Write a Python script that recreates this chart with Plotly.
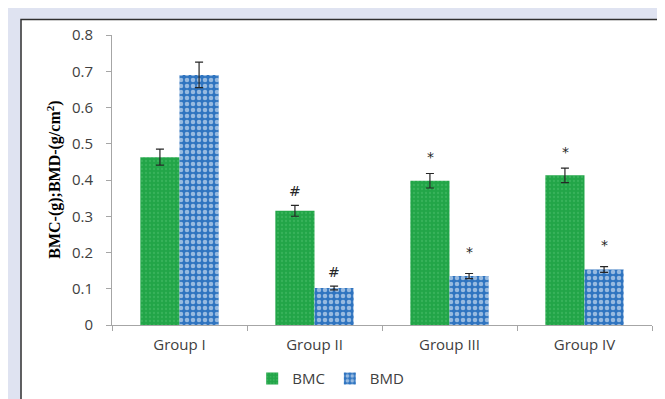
import plotly.graph_objects as go

groups = ["Group I", "Group II", "Group III", "Group IV"]
bmc = [0.463, 0.315, 0.398, 0.413]
bmc_err = [0.022, 0.015, 0.020, 0.020]
bmd = [0.690, 0.102, 0.135, 0.153]
bmd_err = [0.035, 0.005, 0.007, 0.008]
bmc_marks = ["", "#", "*", "*"]
bmd_marks = ["", "#", "*", "*"]
y_ticks = [0, 0.1, 0.2, 0.3, 0.4, 0.5, 0.6, 0.7, 0.8]

tick_font = dict(family="Open Sans, Liberation Sans, sans-serif", size=15, color="#404040")

fig = go.Figure()
fig.add_trace(go.Bar(
    name="BMC", x=groups, y=bmc,
    error_y=dict(type="data", array=bmc_err, color="#262626", thickness=1.2, width=4),
    marker=dict(color="#22a548", line=dict(width=0),
                pattern=dict(shape=".", fgcolor="#4dbf6c", bgcolor="#22a548", size=4, solidity=0.25)),
))
fig.add_trace(go.Bar(
    name="BMD", x=groups, y=bmd,
    error_y=dict(type="data", array=bmd_err, color="#262626", thickness=1.2, width=4),
    marker=dict(color="#2f74c0", line=dict(width=0),
                pattern=dict(shape=".", fgcolor="#ffffff", bgcolor="#2f74c0", size=6, solidity=0.45)),
))

for i, g in enumerate(groups):
    for marks, vals, errs, shift, extra in ((bmc_marks, bmc, bmc_err, -19.5, 6), (bmd_marks, bmd, bmd_err, 19.5, 12)):
        if marks[i]:
            fig.add_annotation(x=g, y=vals[i] + errs[i], xref="x", yref="y",
                               text=marks[i], showarrow=False, xshift=shift,
                               yanchor="bottom", yshift=extra if marks[i] == "*" else 4,
                               font=dict(family="DejaVu Sans, sans-serif", size=14, color="#262626"))

fig.add_annotation(x=-0.131, y=0.5, xref="paper", yref="paper", textangle=-90,
                   text="<b>BMC-(g);BMD-(g/cm<sup>2</sup>)</b>", showarrow=False,
                   font=dict(family="Liberation Serif, serif", size=16, color="#000000"))

fig.add_shape(type="rect", xref="paper", yref="paper", x0=-0.1685, x1=1.0148, y0=-0.3, y1=1.0537,
              line=dict(color="#303030", width=1.5), fillcolor="white", layer="below")

fig.update_layout(
    width=665, height=399,
    margin=dict(l=104, r=21, t=27, b=74),
    paper_bgcolor="#dfe3f1",
    plot_bgcolor="rgba(0,0,0,0)",
    barmode="group", bargap=0.42, bargroupgap=0,
    showlegend=True,
    legend=dict(orientation="h", x=0.405, xanchor="center", y=-0.185, yanchor="middle",
                font=tick_font, bgcolor="rgba(0,0,0,0)", itemwidth=30, traceorder="normal"),
    xaxis=dict(showline=True, linecolor="#a6a6a6", linewidth=1, ticks="outside",
               tickson="boundaries", ticklen=5, tickcolor="#a6a6a6", tickfont=tick_font,
               showgrid=False, ticklabelstandoff=6),
    yaxis=dict(range=[0, 0.8], tickvals=y_ticks, showline=True,
               linecolor="#a6a6a6", linewidth=1, ticks="outside", ticklen=5,
               tickcolor="#a6a6a6", tickfont=tick_font, showgrid=False, zeroline=False,
               ticklabelstandoff=10),
)
fig.write_html("out.html")
